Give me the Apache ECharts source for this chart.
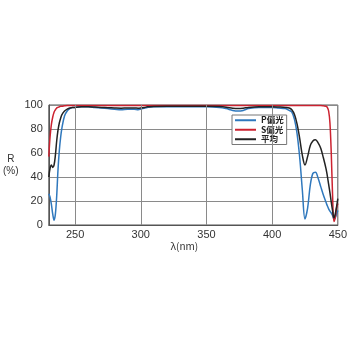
<!DOCTYPE html>
<html>
<head>
<meta charset="utf-8">
<style>
html,body{margin:0;padding:0;background:#fff;}
#chart{width:350px;height:350px;}
</style>
<script src="https://cdn.jsdelivr.net/npm/echarts@6/dist/echarts.min.js"></script>
</head>
<body>
<div id="chart"></div>
<script>
var wavelengths = [230,231,232,233,234,235,236,237,238,239,240,242,244,246,248,250,255,260,265,270,275,280,285,290,295,298,300,303,305,310,320,330,340,350,360,365,370,374,378,382,390,400,405,410,413,415,417,419,421,423,425,427,429,431,433,435,437,439,441,442,443,444,445,446,447,448,449,450];
var pValues = [26,23,17,9,4,9,24,46,62,73,81,91,95,97,98,98,98.5,98.5,98,97.5,97,96.5,96,96.5,96.5,96,96.5,97.5,98,98.5,98.5,98.5,98.5,98.5,98,97,95.5,95,95.5,97,98,98,97.5,97,95.5,94,88,76,56,29,5,14,33,43,44,39,32,25,19,16,13.5,11.5,10,8,5,6,9,12];
var sValues = [57,74,84,90,94,96,97.5,98,98.5,99,99,99.3,99.5,99.5,99.5,99.5,99.5,99.5,99.5,99.5,99.5,99.5,99.5,99.5,99.5,99.5,99.5,99.5,99.5,99.5,99.5,99.5,99.5,99.5,99.5,99.5,99.5,99.5,99.5,99.5,99.5,99.5,99.5,99.5,99.5,99.5,99.5,99.5,99.5,99.5,99.5,99.5,99.5,99.5,99.5,99.5,99.5,99.3,99,98,95,85,60,25,3,6,14,18];
var avgValues = [40,47.5,50,48,50,58,70,79,85,89,92,95,96.5,97.5,98,98,98.5,98.5,98.3,98,97.8,97.5,97.3,97.5,97.5,97.3,97.5,98,98.5,98.8,99,99,99,99,98.7,98.2,97.3,97,97.3,98,98.5,98.5,98.3,98,97.5,96,92,84,72,58,50,57,66,70,71,68.5,64,56,47,41,34,27,19,12,6,9,15,22];
var xTicks = [250,300,350,400,450];
var xGridLines = [250,300,350,400];
var seriesNames = ['P偏光','S偏光','平均'];
var seriesColors = ['#2f78bd','#cc2230','#222222'];

function zip(xs, ys){ return xs.map(function(x,i){ return [x, ys[i]]; }); }

var chart = echarts.init(document.getElementById('chart'), null, {renderer:'canvas'});
var allValues = [pValues, sValues, avgValues];
var series = seriesNames.map(function(name, i){
  return {
    name: name, type: 'line', data: zip(wavelengths, allValues[i]),
    showSymbol: false, symbol: 'none', smooth: 0.35, z: 3 + (i===2?1:0),
    lineStyle: {color: seriesColors[i], width: 1.5},
    itemStyle: {color: seriesColors[i]}
  };
});
series[0].markLine = {
  silent: true, symbol: 'none', label: {show:false},
  lineStyle: {color:'#8a8a8a', width:1, type:'solid'},
  data: xGridLines.map(function(v){ return {xAxis: v}; })
};

chart.setOption({
  animation: false,
  backgroundColor: '#fff',
  grid: {left: 37, right: 12, top: 105, bottom: 125, show: true, borderColor: '#555', borderWidth: 1},
  legend: {
    orient: 'vertical', left: 232, top: 115,
    data: seriesNames, icon: 'rect', itemWidth: 21, itemHeight: 2, itemGap: 1,
    padding: [1,3,1,3], backgroundColor: '#fff', borderColor: '#777', borderWidth: 1,
    textStyle: {fontSize: 8.5, lineHeight: 8, color: '#222', fontWeight: 'bold', fontFamily: 'Noto Sans CJK JP'}
  },
  xAxis: {
    type: 'value', min: 230, max: 450,
    name: 'λ(nm)', nameLocation: 'middle', nameGap: 15,
    nameTextStyle: {fontSize: 10, color: '#333', padding: [0,18,0,0], fontFamily: 'Noto Sans CJK JP'},
    axisLine: {show: true, lineStyle: {color: '#555'}},
    axisTick: {show: false},
    splitLine: {show: false},
    axisLabel: {customValues: xTicks, fontSize: 11, color: '#333', margin: 4, fontFamily: 'Liberation Sans'}
  },
  yAxis: {
    type: 'value', min: 0, max: 100, interval: 20,
    name: 'R\n(%)', nameLocation: 'middle', nameGap: 26, nameRotate: 0,
    nameTextStyle: {fontSize: 10, color: '#333', align: 'center', lineHeight: 12, fontFamily: 'Liberation Sans'},
    axisLine: {show: true, lineStyle: {color: '#555'}},
    axisTick: {show: false},
    splitLine: {show: true, lineStyle: {color: '#8a8a8a', width: 1}},
    axisLabel: {fontSize: 11, color: '#333', margin: 6, fontFamily: 'Liberation Sans'}
  },
  series: series
});
</script>
</body>
</html>
